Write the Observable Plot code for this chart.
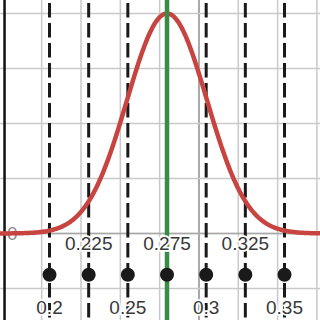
<!DOCTYPE html>
<html>
<head>
<meta charset="utf-8">
<script src="https://cdn.jsdelivr.net/npm/d3@7"></script>
<script src="https://cdn.jsdelivr.net/npm/@observablehq/plot@0.6"></script>
<style>
  html, body { margin: 0; padding: 0; background: #fff; }
  #chart svg { display: block; }
</style>
</head>
<body>
<div id="chart"></div>
<script>
// ---- data ----
const mean = 0.275;
const sigma = 0.0255;
const peak = 4;
const markerX = [0.2, 0.225, 0.25, 0.275, 0.3, 0.325, 0.35];
const dashedX = [0.2, 0.225, 0.25, 0.3, 0.325, 0.35];
const bottomLabelX = [0.2, 0.25, 0.3, 0.35];
const bottomLabels = ["0.2", "0.25", "0.3", "0.35"];
const topLabelX = [0.225, 0.275, 0.325];
const topLabels = ["0.225", "0.275", "0.325"];
const gridX = [0.1950, 0.2201, 0.2452, 0.2703, 0.2954, 0.3205, 0.3456, 0.3707];
const gridXDark = [0.2954];
const gridY = [-1, 0, 1, 2, 3, 4];
const gridYDark = [0];
const yAxisX = 0.1713;
const originLabel = ["0"];
const originLabelX = [0.1762];

// ---- build the curve ----
const xMin = 0.16872, xMax = 0.37297;
const curvePts = d3.range(0, 301).map(i => {
  const x = xMin + (xMax - xMin) * i / 300;
  return {x, y: peak * Math.exp(-0.5 * ((x - mean) / sigma) ** 2)};
});
const bottomRows = bottomLabels.map((t, i) => ({x: bottomLabelX[i], t}));
const topRows = topLabels.map((t, i) => ({x: topLabelX[i], t}));
const originRows = originLabel.map((t, i) => ({x: originLabelX[i], t}));

const font = "'Liberation Sans', Arial, sans-serif";

const chart = Plot.plot({
  width: 320,
  height: 320,
  marginTop: 0, marginRight: 0, marginBottom: 0, marginLeft: 0,
  x: {domain: [xMin, xMax], axis: null},
  y: {domain: [-1.582, 4.236], axis: null},
  style: {background: "#fff", fontFamily: font},
  marks: [
    Plot.ruleX(gridX, {stroke: "#c9c9c9", strokeWidth: 1.5}),
    Plot.ruleX(gridXDark, {stroke: "#9a9a9a", strokeWidth: 1.5}),
    Plot.ruleY(gridY, {stroke: "#c9c9c9", strokeWidth: 1.5}),
    Plot.ruleY(gridYDark, {stroke: "#a8a8a8", strokeWidth: 1.5}),
    Plot.ruleX([yAxisX], {stroke: "#111", strokeWidth: 2.5}),
    Plot.text(originRows, {x: "x", y: 0, text: "t", fill: "#8a8a8a", fontSize: 19, textAnchor: "middle", lineAnchor: "middle"}),
    Plot.ruleX(dashedX, {stroke: "#1a1a1a", strokeWidth: 3, strokeDasharray: "14.5,5.5", strokeDashoffset: -3}),
    Plot.line(curvePts, {x: "x", y: "y", stroke: "#c74440", strokeWidth: 4.5, curve: "linear"}),
    Plot.ruleX([mean], {stroke: "#388c46", strokeWidth: 4.5}),
    Plot.dot(markerX, {x: d => d, y: -0.751, r: 7, fill: "#1a1a1a", stroke: "none"}),
    Plot.text(topRows, {x: "x", y: -0.191, text: "t", fill: "#383838", stroke: "#fff", strokeWidth: 3.5, paintOrder: "stroke", fontSize: 19, textAnchor: "middle", lineAnchor: "middle"}),
    Plot.text(bottomRows, {x: "x", y: -1.345, text: "t", fill: "#383838", stroke: "#fff", strokeWidth: 3.5, paintOrder: "stroke", fontSize: 19, textAnchor: "middle", lineAnchor: "middle"})
  ]
});
document.getElementById("chart").appendChild(chart);
</script>
</body>
</html>
